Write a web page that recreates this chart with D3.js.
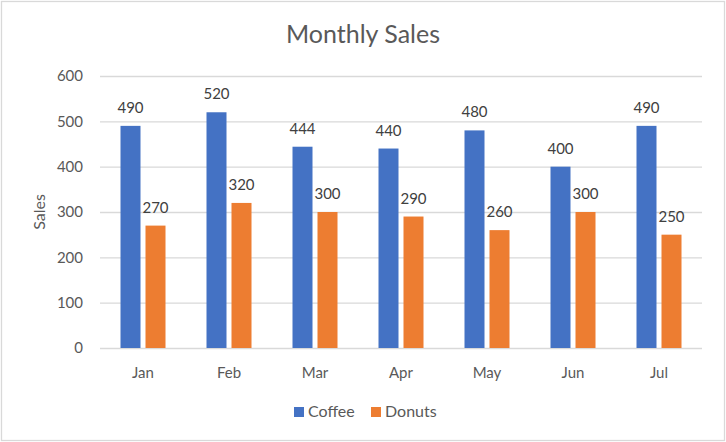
<!DOCTYPE html>
<html><head><meta charset="utf-8">
<script src="https://cdn.jsdelivr.net/npm/d3@7"></script>
<style>body{margin:0;background:#fff}svg{display:block}</style>
</head><body>
<script>
const months = ["Jan","Feb","Mar","Apr","May","Jun","Jul"];
const coffee = [490,520,444,440,480,400,490];
const donuts = [270,320,300,290,260,300,250];
const seriesNames = ["Coffee","Donuts"];
const seriesColors = ["#4472C4","#ED7D31"];
const yTicks = [0,100,200,300,400,500,600];
const title = "Monthly Sales";
const yTitle = "Sales";

const W = 726, H = 442;
const m = {left:100, right:24, top:76, bottom:94};
const font = "Lato, 'Open Sans', sans-serif";
const svg = d3.select("body").append("svg").attr("width",W).attr("height",H);
svg.append("rect").attr("x",1.5).attr("y",1.5).attr("width",W-3).attr("height",H-3)
  .attr("fill","#fff").attr("stroke","#d9d9d9").attr("stroke-width",1.3);

const x = d3.scaleBand().domain(months).range([m.left, W-m.right]).paddingInner(0).paddingOuter(0);
const y = d3.scaleLinear().domain([0,600]).range([H-m.bottom, m.top]);
const xs = d3.scaleBand().domain(seriesNames).range([0,45]).paddingInner(0.2);

// gridlines
const yAxis = d3.axisLeft(y).tickValues(yTicks).tickSize(-(W-m.left-m.right)).tickPadding(17);
const gy = svg.append("g").attr("transform",`translate(${m.left},0)`).call(yAxis);
gy.select(".domain").remove();
gy.selectAll(".tick line").attr("stroke","#d9d9d9").attr("stroke-width",1.3);
gy.selectAll(".tick text").attr("fill","#595959").attr("font-family",font).attr("font-size",15);

const xAxis = d3.axisBottom(x).tickSize(0).tickPadding(19);
const gx = svg.append("g").attr("transform",`translate(0,${H-m.bottom})`).call(xAxis);
gx.select(".domain").remove();
gx.selectAll(".tick text").attr("fill","#595959").attr("font-family",font).attr("font-size",15);

const data = months.map((mo,i)=>({month:mo, values:[{s:"Coffee",v:coffee[i]},{s:"Donuts",v:donuts[i]}]}));
const groups = svg.append("g").selectAll("g").data(data).join("g")
  .attr("transform",d=>`translate(${x(d.month)+x.bandwidth()/2-22.5},0)`);
groups.selectAll("rect").data(d=>d.values).join("rect")
  .attr("x",d=>xs(d.s)).attr("width",xs.bandwidth())
  .attr("y",d=>y(d.v)).attr("height",d=>y(0)-y(d.v))
  .attr("fill",(d,i)=>seriesColors[i]);
groups.selectAll("text").data(d=>d.values).join("text")
  .attr("x",d=>xs(d.s)+xs.bandwidth()/2).attr("y",d=>y(d.v)-13)
  .attr("text-anchor","middle").attr("fill","#404040").attr("font-family",font).attr("font-size",15)
  .text(d=>d.v);

svg.append("text").attr("x",W/2).attr("y",43).attr("text-anchor","middle")
  .attr("fill","#595959").attr("font-family",font).attr("font-size",25).text(title);

svg.append("text").attr("transform",`translate(45,${(m.top+H-m.bottom)/2}) rotate(-90)`)
  .attr("text-anchor","middle").attr("fill","#595959").attr("font-family",font).attr("font-size",16).text(yTitle);

const legend = svg.append("g");
const lx = [294, 371];
seriesNames.forEach((s,i)=>{
  legend.append("rect").attr("x",lx[i]).attr("y",407).attr("width",10).attr("height",10).attr("fill",seriesColors[i]);
  legend.append("text").attr("x",lx[i]+14).attr("y",417).attr("fill","#595959")
    .attr("font-family",font).attr("font-size",16).text(s);
});
</script>
</body></html>
